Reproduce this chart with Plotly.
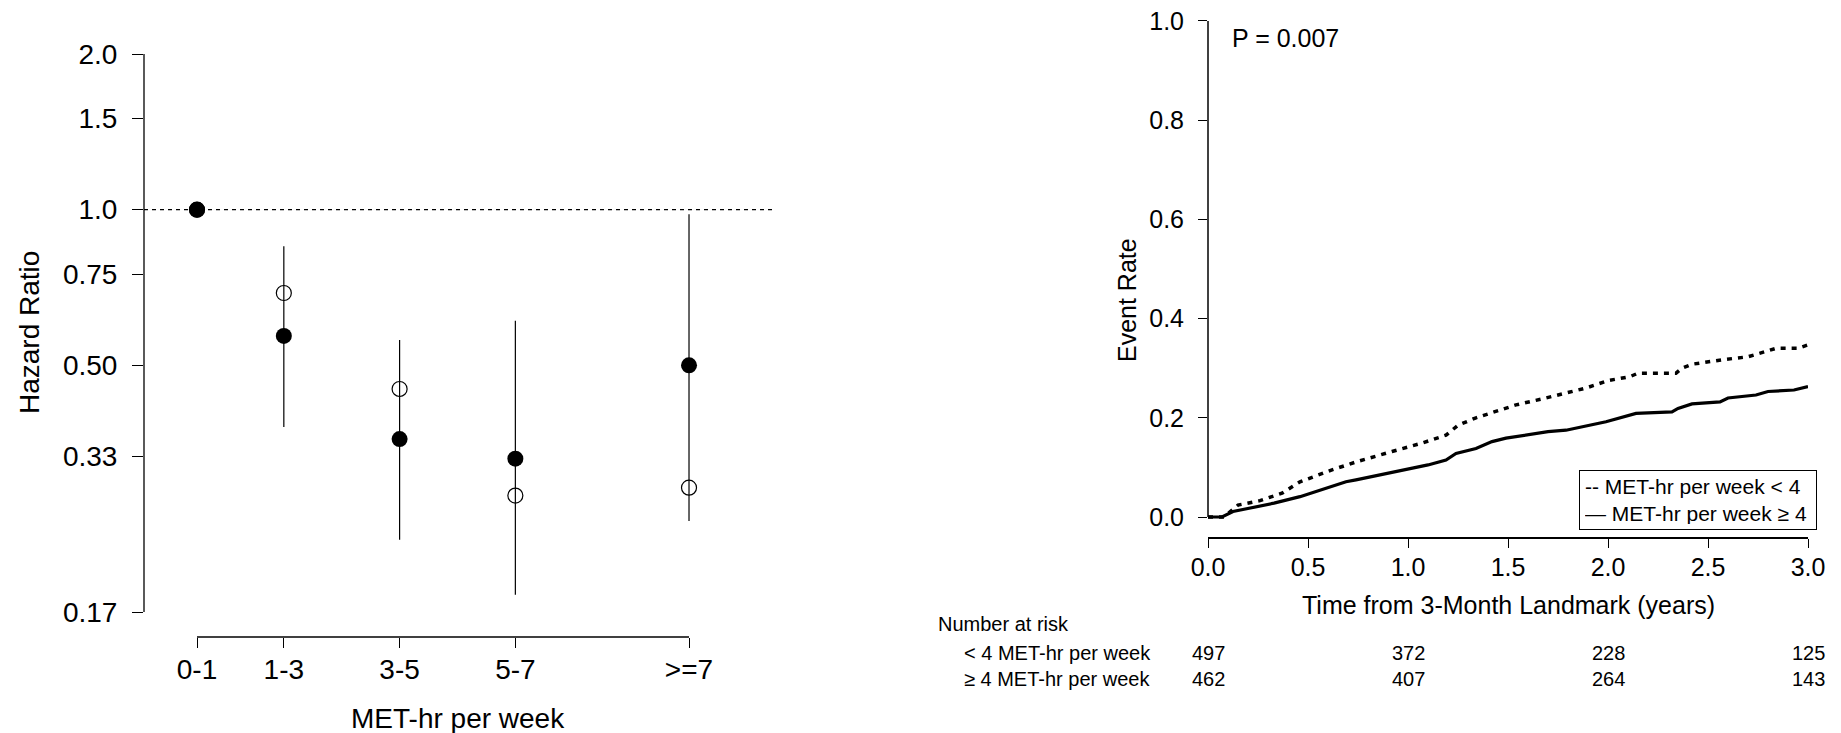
import plotly.graph_objects as go

W, H = 1841, 733
FONT = "Liberation Sans, Arial, sans-serif"

# ---- Left panel: hazard ratio by MET-hr per week category ----
categories = ["0-1", "1-3", "3-5", "5-7", ">=7"]
met_midpoint = [0.5, 2, 4, 6, 9]
hr_adjusted = [1.0, 0.57, 0.36, 0.33, 0.50]      # filled circles
ci_low = [1.0, 0.38, 0.23, 0.18, 0.25]
ci_high = [1.0, 0.85, 0.56, 0.61, 0.98]
hr_unadjusted = [1.0, 0.69, 0.45, 0.28, 0.29]    # open circles
hr_tickvals = [2.0, 1.5, 1.0, 0.75, 0.5, 1 / 3, 1 / 6]
hr_ticktext = ["2.0", "1.5", "1.0", "0.75", "0.50", "0.33", "0.17"]

# ---- Right panel: cumulative event rate from the 3-month landmark ----
t_low = [0, 0.08, 0.15, 0.26, 0.37, 0.46, 0.62, 0.74, 0.92, 1.07, 1.19, 1.25,
         1.34, 1.47, 1.54, 1.69, 1.89, 2.00, 2.11, 2.15, 2.34, 2.37, 2.42,
         2.57, 2.70, 2.84, 2.95, 3.00]
ev_low = [0, 0.0, 0.024, 0.033, 0.048, 0.071, 0.095, 0.111, 0.132, 0.149,
          0.165, 0.185, 0.200, 0.216, 0.226, 0.240, 0.260, 0.275, 0.283, 0.290,
          0.290, 0.300, 0.308, 0.317, 0.323, 0.340, 0.340, 0.347]
t_high = [0, 0.07, 0.125, 0.21, 0.33, 0.46, 0.59, 0.69, 0.74, 0.86, 0.98, 1.10,
          1.19, 1.24, 1.34, 1.42, 1.49, 1.58, 1.70, 1.79, 1.88, 1.99, 2.14,
          2.32, 2.35, 2.42, 2.56, 2.60, 2.74, 2.80, 2.93, 3.00]
ev_high = [0, 0, 0.011, 0.018, 0.028, 0.041, 0.058, 0.071, 0.075, 0.085, 0.096,
           0.105, 0.115, 0.128, 0.138, 0.152, 0.159, 0.165, 0.172, 0.175, 0.182,
           0.192, 0.209, 0.212, 0.219, 0.228, 0.232, 0.240, 0.246, 0.253, 0.256,
           0.263]
time_ticks = [0, 0.5, 1.0, 1.5, 2.0, 2.5, 3.0]
rate_ticks = [0, 0.2, 0.4, 0.6, 0.8, 1.0]
risk_times = [0, 1, 2, 3]
risk_low = [497, 372, 228, 125]
risk_high = [462, 407, 264, 143]
p_value = "P = 0.007"


def px_x(p):
    return p / W


def px_y(p):
    return 1 - p / H


fig = go.Figure()

# unadjusted estimates (open circles)
fig.add_trace(go.Scatter(
    x=met_midpoint, y=hr_unadjusted, mode="markers",
    marker=dict(symbol="circle-open", size=15, color="black", line=dict(width=1.2)),
    xaxis="x", yaxis="y", showlegend=False, cliponaxis=False))

# adjusted estimates with confidence intervals (filled circles)
fig.add_trace(go.Scatter(
    x=met_midpoint, y=hr_adjusted, mode="markers",
    marker=dict(symbol="circle", size=16, color="black"),
    error_y=dict(type="data", symmetric=False,
                 array=[h - m for h, m in zip(ci_high, hr_adjusted)],
                 arrayminus=[m - l for m, l in zip(hr_adjusted, ci_low)],
                 color="black", thickness=1.2, width=0),
    xaxis="x", yaxis="y", showlegend=False, cliponaxis=False))

# cumulative event curves
fig.add_trace(go.Scatter(
    x=t_low, y=ev_low, mode="lines",
    line=dict(color="black", width=3.5, dash="5px,6px"),
    xaxis="x2", yaxis="y2", showlegend=False))
fig.add_trace(go.Scatter(
    x=t_high, y=ev_high, mode="lines",
    line=dict(color="black", width=3.2),
    xaxis="x2", yaxis="y2", showlegend=False))

axis_common = dict(showgrid=False, zeroline=False, ticks="outside",
                   tickcolor="black", tickwidth=1.3, automargin=False)

fig.update_layout(
    template="none",
    width=W, height=H, autosize=False,
    margin=dict(l=0, r=0, t=0, b=0, pad=0),
    paper_bgcolor="white", plot_bgcolor="white",
    font=dict(family=FONT, color="black"),
    showlegend=False,
    xaxis=dict(axis_common, domain=[px_x(144), px_x(773)],
               range=[-0.4157, 10.451], tickvals=met_midpoint,
               ticktext=categories, ticklen=10, showline=False,
               tickfont=dict(family=FONT, size=28, color="black"),
               ticklabelstandoff=-3, anchor="y"),
    yaxis=dict(axis_common, type="log", domain=[px_y(637), px_y(40)],
               range=[-0.8264, 0.3281], tickvals=hr_tickvals,
               ticktext=hr_ticktext, ticklen=11, showline=False,
               tickfont=dict(family=FONT, size=28, color="black"),
               ticklabelstandoff=9, anchor="x"),
    xaxis2=dict(axis_common, domain=[px_x(1208), px_x(1808)], range=[0, 3],
                tickvals=time_ticks, ticktext=[f"{v:.1f}" for v in time_ticks],
                ticklen=9, showline=True, linecolor="black", linewidth=1.5,
                tickfont=dict(family=FONT, size=25, color="black"),
                ticklabelstandoff=-2, anchor="y2"),
    yaxis2=dict(axis_common, domain=[px_y(537), px_y(1)],
                range=[-0.0403, 1.0403], tickvals=rate_ticks,
                ticktext=[f"{v:.1f}" for v in rate_ticks], ticklen=9,
                showline=False,
                tickfont=dict(family=FONT, size=25, color="black"),
                ticklabelstandoff=9, anchor="x2"),
)

shapes = [
    # left y axis line spanning the labelled ticks
    dict(type="line", xref="x domain", x0=0, x1=0, yref="y",
         y0=hr_tickvals[-1], y1=hr_tickvals[0], line=dict(color="black", width=1.3)),
    # left x axis line spanning the categories
    dict(type="line", xref="x", x0=met_midpoint[0], x1=met_midpoint[-1],
         yref="y domain", y0=0, y1=0, line=dict(color="black", width=1.3)),
    # reference line at HR = 1
    dict(type="line", xref="x domain", x0=0, x1=1, yref="y", y0=1, y1=1,
         line=dict(color="black", width=1.1, dash="4px,4px")),
    # right y axis line
    dict(type="line", xref="x2 domain", x0=0, x1=0, yref="y2",
         y0=rate_ticks[0], y1=rate_ticks[-1], line=dict(color="black", width=1.5)),
]


def label(text, x, y, size, xanchor="center", xref="paper", **kw):
    return dict(text=text, x=x, y=y, xref=xref, yref="paper",
                xanchor=xanchor, yanchor=kw.pop("yanchor", "middle"),
                showarrow=False, font=dict(size=size, family=FONT, color="black"),
                **kw)


ann = [
    label("Hazard Ratio", px_x(29), px_y(333), 28, textangle=-90),
    label("MET-hr per week", px_x(458), px_y(718), 28),
    label("Event Rate", px_x(1127), px_y(300), 25, textangle=-90),
    label("Time from 3-Month Landmark (years)", px_x(1508), px_y(605), 25),
    label(p_value, px_x(1230), px_y(38), 25, xanchor="left"),
    label("-- MET-hr per week < 4<br>\u2014 MET-hr per week \u2265 4",
          px_x(1579), px_y(470), 21, xanchor="left", yanchor="top",
          align="left", width=226, height=48, borderpad=5, borderwidth=1,
          bordercolor="black", bgcolor="white"),
    # number-at-risk table
    label("Number at risk", px_x(936), px_y(624), 20, xanchor="left"),
]
row_labels = ["< 4 MET-hr per week", "\u2265 4 MET-hr per week"]
row_y = [653, 679]
for text, counts, yy in zip(row_labels, [risk_low, risk_high], row_y):
    ann.append(label(text, px_x(962), px_y(yy), 20, xanchor="left"))
    for t, n in zip(risk_times, counts):
        ann.append(label(str(n), t, px_y(yy), 20, xref="x2"))

fig.update_layout(shapes=shapes, annotations=ann)

fig.write_html("out.html")
